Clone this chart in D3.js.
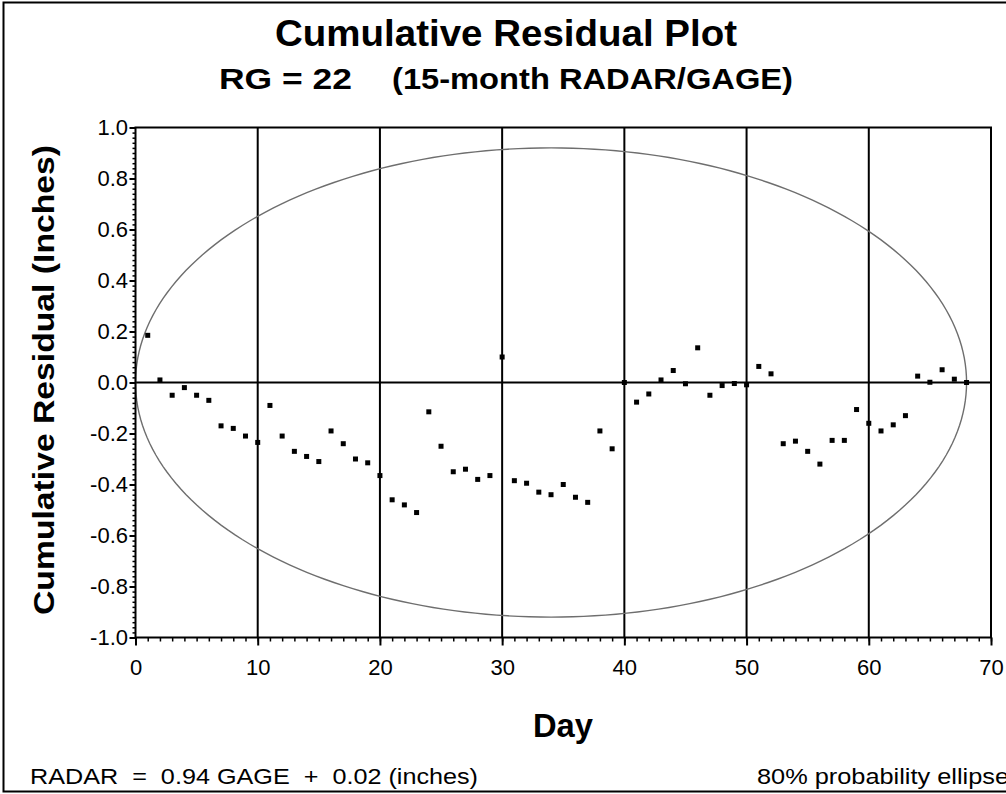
<!DOCTYPE html>
<html>
<head>
<meta charset="utf-8">
<script src="https://cdn.jsdelivr.net/npm/d3@7"></script>
<style>
  html, body { margin: 0; padding: 0; background: #fff; }
  svg { display: block; }
  text { font-family: "Liberation Sans", Arial, sans-serif; fill: #000; }
</style>
</head>
<body>
<svg id="chart" width="1006" height="794"></svg>
<script>
// Day of record (x) and cumulative residual in inches (y)
const days = [1, 2, 3, 4, 5, 6, 7, 8, 9, 10, 11, 12, 13, 14, 15, 16, 17, 18, 19, 20,
  21, 22, 23, 24, 25, 26, 27, 28, 29, 30, 31, 32, 33, 34, 35, 36, 37, 38, 39, 40,
  41, 42, 43, 44, 45, 46, 47, 48, 49, 50, 51, 52, 53, 54, 55, 56, 57, 58, 59, 60,
  61, 62, 63, 64, 65, 66, 67, 68];
const cumResidual = [0.185, 0.01, -0.05, -0.02, -0.05, -0.07, -0.17, -0.18, -0.21, -0.235,
  -0.09, -0.21, -0.27, -0.29, -0.31, -0.19, -0.24, -0.30, -0.315, -0.365,
  -0.46, -0.48, -0.51, -0.115, -0.25, -0.35, -0.34, -0.38, -0.365, 0.10,
  -0.385, -0.395, -0.43, -0.44, -0.40, -0.45, -0.47, -0.19, -0.26, 0.0,
  -0.077, -0.045, 0.01, 0.047, -0.005, 0.136, -0.05, -0.012, -0.004, -0.009,
  0.063, 0.034, -0.24, -0.23, -0.27, -0.32, -0.227, -0.227, -0.106, -0.16,
  -0.19, -0.166, -0.13, 0.025, 0.001, 0.05, 0.013, 0.0];

// 80% probability ellipse: centre (day, inches) and semi-axes
const ellipseCenter = [34, 0];
const ellipseRadii = [34, 0.92];

// Axis ticks
const xTicks = [0, 10, 20, 30, 40, 50, 60, 70];
const yTicks = [-1.0, -0.8, -0.6, -0.4, -0.2, 0.0, 0.2, 0.4, 0.6, 0.8, 1.0];
const xMinorStep = 1;
const yMinorStep = 0.02;

const titleText = "Cumulative Residual Plot";
const subtitleLeft = "RG = 22";
const subtitleRight = "(15-month RADAR/GAGE)";
const xTitle = "Day";
const yTitle = "Cumulative Residual (Inches)";
const equationText = "RADAR\u00A0 =\u00A0 0.94 GAGE\u00A0 +\u00A0 0.02 (inches)";
const ellipseNote = "80% probability ellipse";

const svg = d3.select("#chart");
const plot = { left: 135.5, right: 991, top: 127.5, bottom: 637.5 };

const x = d3.scaleLinear().domain([0, 70]).range([plot.left, plot.right]);
const y = d3.scaleLinear().domain([-1, 1]).range([plot.bottom, plot.top]);

// outer frame (right edge runs past the page)
svg.append("rect")
  .attr("x", 3.5).attr("y", 2.5)
  .attr("width", 1012).attr("height", 789)
  .attr("fill", "none").attr("stroke", "#000").attr("stroke-width", 2);

// vertical grid lines at major day ticks
svg.append("g").selectAll("line")
  .data(xTicks.filter(d => d > 0 && d < 70))
  .join("line")
  .attr("x1", d => x(d)).attr("x2", d => x(d))
  .attr("y1", plot.top).attr("y2", plot.bottom)
  .attr("stroke", "#000").attr("stroke-width", 2);

// zero reference line
svg.append("line")
  .attr("x1", plot.left).attr("x2", plot.right)
  .attr("y1", y(0)).attr("y2", y(0))
  .attr("stroke", "#000").attr("stroke-width", 2);

// ellipse
const nSeg = 240;
const ellipsePts = d3.range(nSeg + 1).map(i => {
  const t = (i / nSeg) * 2 * Math.PI;
  return [ellipseCenter[0] + ellipseRadii[0] * Math.cos(t),
          ellipseCenter[1] + ellipseRadii[1] * Math.sin(t)];
});
svg.append("path")
  .datum(ellipsePts)
  .attr("d", d3.line().x(d => x(d[0])).y(d => y(d[1])))
  .attr("fill", "none").attr("stroke", "#6e6e6e").attr("stroke-width", 1.4);

// plot box
svg.append("rect")
  .attr("x", plot.left).attr("y", plot.top)
  .attr("width", plot.right - plot.left).attr("height", plot.bottom - plot.top)
  .attr("fill", "none").attr("stroke", "#000").attr("stroke-width", 2);

const tickFont = g => g.selectAll("text")
  .attr("font-size", 22)
  .attr("font-family", "Liberation Sans, Arial, sans-serif");

// x axis: minor and major ticks
const xMinor = d3.range(0, 70 + 1e-9, xMinorStep);
svg.append("g")
  .attr("transform", `translate(0,${plot.bottom})`)
  .call(d3.axisBottom(x).tickValues(xMinor).tickSize(4).tickFormat(""))
  .call(g => g.select(".domain").remove())
  .call(g => g.selectAll("line").attr("stroke-width", 1.5));
svg.append("g")
  .attr("transform", `translate(0,${plot.bottom})`)
  .call(d3.axisBottom(x).tickValues(xTicks).tickSize(8).tickPadding(14).tickFormat(d3.format("d")))
  .call(g => g.select(".domain").remove())
  .call(g => g.selectAll("line").attr("stroke-width", 2))
  .call(tickFont);

// y axis: minor and major ticks
const yMinor = d3.range(-1, 1 + 1e-9, yMinorStep);
svg.append("g")
  .attr("transform", `translate(${plot.left},0)`)
  .call(d3.axisLeft(y).tickValues(yMinor).tickSize(3).tickFormat(""))
  .call(g => g.select(".domain").remove())
  .call(g => g.selectAll("line").attr("stroke-width", 1.5));
svg.append("g")
  .attr("transform", `translate(${plot.left},0)`)
  .call(d3.axisLeft(y).tickValues(yTicks).tickSize(6).tickPadding(1.5)
    .tickFormat(d => d3.format(".1f")(d).replace("\u2212", "-")))
  .call(g => g.select(".domain").remove())
  .call(g => g.selectAll("line").attr("stroke-width", 2))
  .call(tickFont);

// data points
svg.append("g").selectAll("rect")
  .data(days.map((d, i) => [d, cumResidual[i]]))
  .join("rect")
  .attr("x", d => x(d[0]) - 2.5).attr("y", d => y(d[1]) - 2.5)
  .attr("width", 5).attr("height", 5)
  .attr("fill", "#000");

// helper: bold label stretched to a set width
function label(x0, y0, txt, size, width, opts = {}) {
  const t = svg.append("text")
    .attr("x", x0).attr("y", y0)
    .attr("font-size", size)
    .attr("font-weight", opts.bold === false ? "normal" : "bold")
    .attr("text-anchor", opts.anchor || "start")
    .text(txt);
  if (width) t.attr("textLength", width).attr("lengthAdjust", "spacingAndGlyphs");
  if (opts.transform) t.attr("transform", opts.transform);
  return t;
}

// titles
label(506, 46, titleText, 37, 462, { anchor: "middle" });
label(219, 89, subtitleLeft, 30, 133);
label(392, 89, subtitleRight, 30, 401);
label(563, 737, xTitle, 33, 60, { anchor: "middle" });
svg.append("text")
  .attr("transform", `translate(54,380) rotate(-90)`)
  .attr("text-anchor", "middle").attr("font-size", 30).attr("font-weight", "bold")
  .attr("textLength", 470).attr("lengthAdjust", "spacingAndGlyphs")
  .text(yTitle);

// footnotes
label(30, 784, equationText, 22, 448, { bold: false });
label(757, 784, ellipseNote, 22, 252, { bold: false });
</script>
</body>
</html>
